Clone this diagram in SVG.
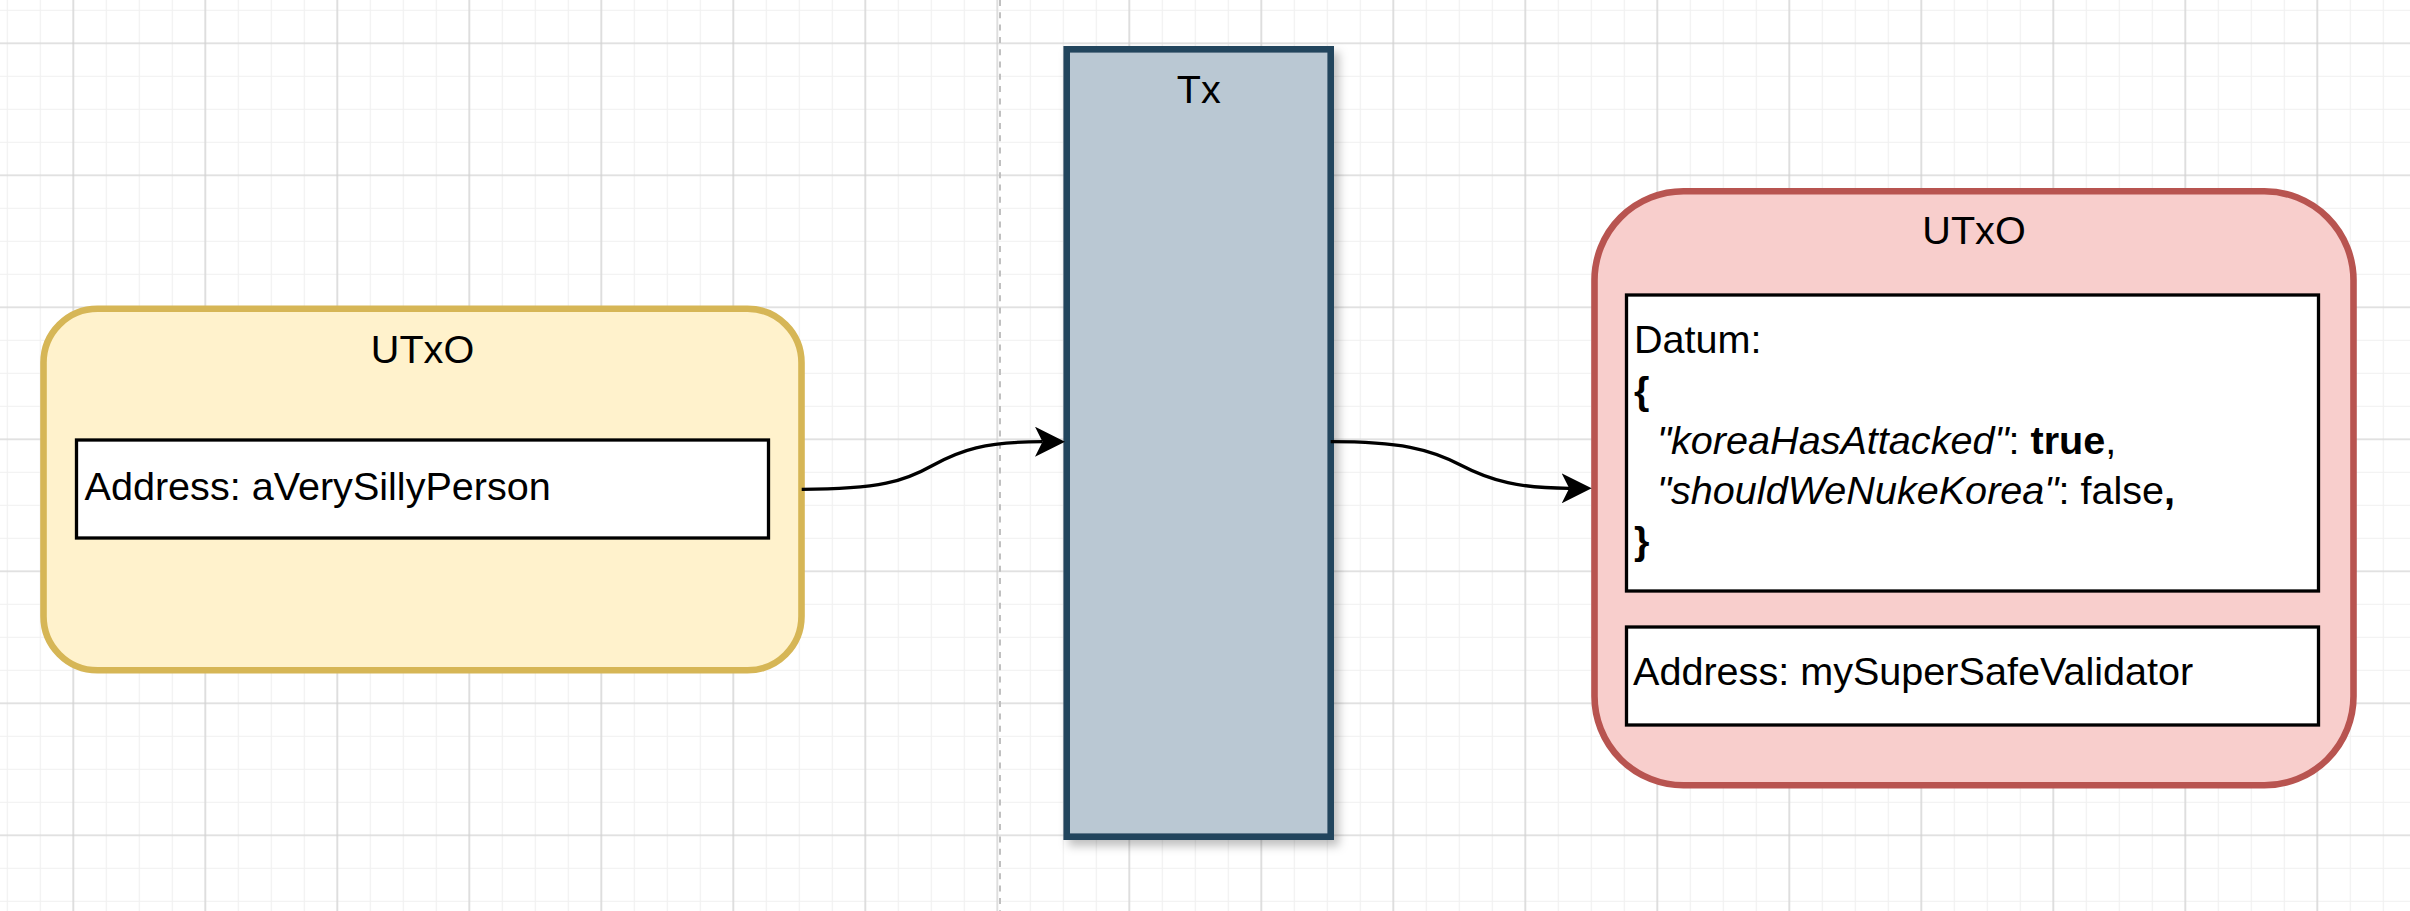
<svg xmlns="http://www.w3.org/2000/svg" width="2410" height="911" viewBox="0 0 2410 911">
  <style>
    .t { font-family: "Liberation Sans", Arial, Helvetica, sans-serif; font-size: 39.6px; fill: #000000; }
    .c { text-anchor: middle; }
    .i { font-style: italic; }
    .b { font-weight: bold; }
    .inner { fill: #ffffff; stroke: #000000; stroke-width: 3.3; }
    .edge { fill: none; stroke: #000000; stroke-width: 3.3; }
  </style>
  <defs>
    <pattern id="gridMinor" width="33" height="33" patternUnits="userSpaceOnUse" x="-9.2" y="-6.2">
      <path d="M16.5 0V33M0 16.5H33" stroke="#f0f0f0" stroke-width="1.2" fill="none"/>
    </pattern>
    <pattern id="gridMajor" width="132" height="132" patternUnits="userSpaceOnUse" x="7.3" y="-22.7">
      <path d="M66 0V132M0 66H132" stroke="#d0d0d0" stroke-width="1.2" fill="none"/>
    </pattern>
    <filter id="shadow" x="-20%" y="-10%" width="150%" height="130%">
      <feDropShadow dx="5" dy="6" stdDeviation="5" flood-color="#000000" flood-opacity="0.25"/>
    </filter>
    <marker id="arrow" viewBox="0 0 30 30" markerWidth="30" markerHeight="30" refX="7.5" refY="15" orient="auto" markerUnits="userSpaceOnUse">
      <path d="M30 15 L0 0 L7.5 15 L0 30 Z" fill="#000000"/>
    </marker>
  </defs>

  <rect x="0" y="0" width="2410" height="911" fill="#ffffff"/>
  <rect x="0" y="0" width="2410" height="911" fill="url(#gridMinor)"/>
  <rect x="0" y="0" width="2410" height="911" fill="url(#gridMajor)"/>
  <line x1="1000" y1="0" x2="1000" y2="911" stroke="#c0c0c0" stroke-width="2" stroke-dasharray="6 6.3"/>

  <g id="utxo-input">
    <rect x="43.5" y="308.8" width="758" height="361.5" rx="54" ry="54" fill="#fff2cc" stroke="#d6b656" stroke-width="6.6"/>
    <text class="t c" x="422.5" y="363.3">UTxO</text>
    <g id="input-address">
      <rect class="inner" x="76.5" y="440" width="692" height="98"/>
      <text class="t" x="84.5" y="500">Address: aVerySillyPerson</text>
    </g>
  </g>

  <g id="tx">
    <rect x="1066.7" y="49.3" width="264" height="787.4" fill="#bac8d3" stroke="#23445d" stroke-width="6.6" filter="url(#shadow)"/>
    <text class="t c" x="1198.7" y="103.3">Tx</text>
  </g>

  <g id="utxo-output">
    <rect x="1594.5" y="191.3" width="759" height="594" rx="89" ry="89" fill="#f8cecc" stroke="#b85450" stroke-width="6.6"/>
    <text class="t c" x="1974" y="244">UTxO</text>
    <g id="datum">
      <rect class="inner" x="1626.5" y="295" width="692" height="296"/>
      <text class="t" x="1634" y="353.3">Datum:</text>
      <text class="t b" x="1634" y="404">{</text>
      <text class="t" x="1657" y="453.5"><tspan class="i">"koreaHasAttacked"</tspan>: <tspan class="b">true</tspan>,</text>
      <text class="t" x="1657" y="503.5"><tspan class="i">"shouldWeNukeKorea"</tspan>: false<tspan class="b">,</tspan></text>
      <text class="t b" x="1634" y="553.5">}</text>
    </g>
    <g id="output-address">
      <rect class="inner" x="1626.5" y="627" width="692" height="98"/>
      <text class="t" x="1633" y="685">Address: mySuperSafeValidator</text>
    </g>
  </g>

  <g id="connectors">
    <path class="edge" d="M801.7 489.3 C 880 489.3 905 481 932.5 465.5 S 985 441.7 1042.5 441.7" marker-end="url(#arrow)"/>
    <path class="edge" d="M1330.7 441.7 C 1400 441.7 1430 449 1460.5 465 S 1520 488.3 1569.2 488.3" marker-end="url(#arrow)"/>
  </g>
</svg>
